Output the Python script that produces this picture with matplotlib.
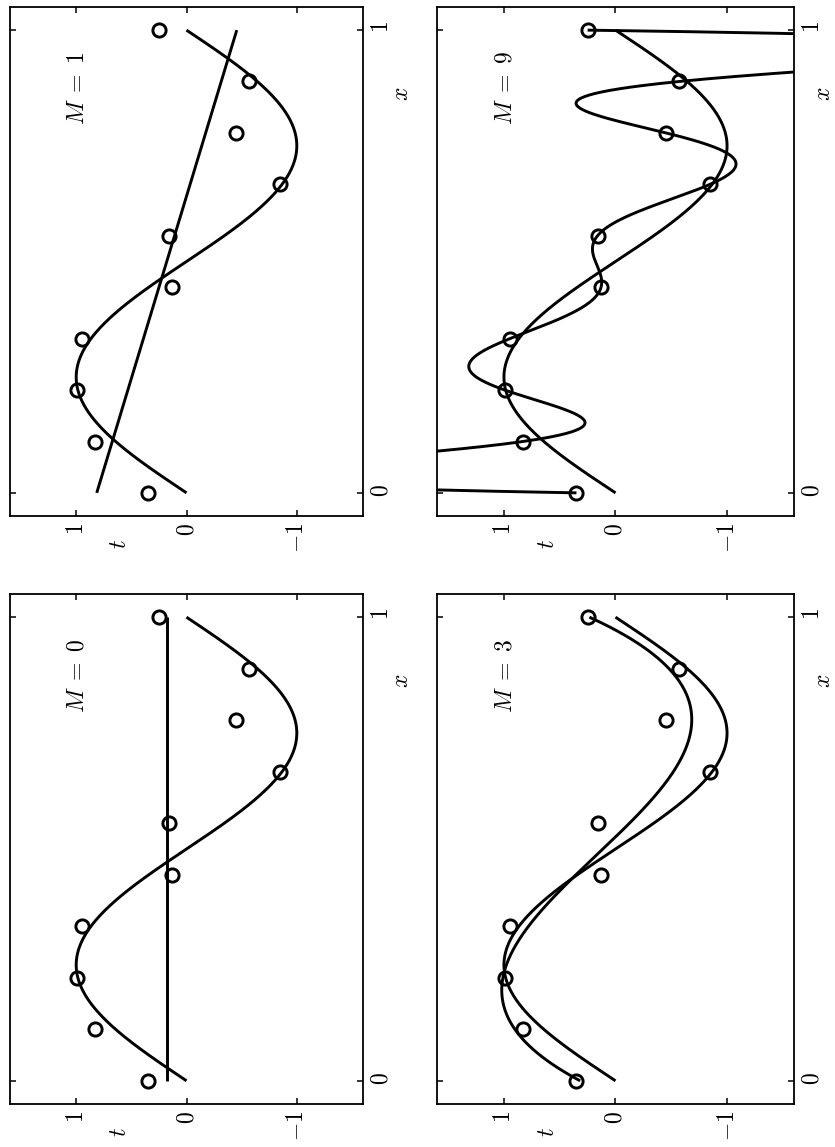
import numpy as np
import matplotlib
matplotlib.use("Agg")
import matplotlib.pyplot as plt
from numpy.polynomial import Polynomial

plt.rcParams['mathtext.fontset'] = 'cm'
plt.rcParams['font.family'] = ['DejaVu Serif']

# ---- data ----
x_data = [0.0, 0.111, 0.222, 0.333, 0.444, 0.556, 0.667, 0.778, 0.889, 1.0]
t_data = [0.35, 0.83, 0.99, 0.95, 0.13, 0.16, -0.85, -0.45, -0.57, 0.25]
orders = [0, 1, 3, 9]
panel_labels = [r'$M\;=\;0$', r'$M\;=\;1$', r'$M\;=\;3$', r'$M\;=\;9$']
t_ticks = [1, 0, -1]
t_tick_labels = ['$1$', '$0$', '$-1$']
x_ticks = [0, 1]
x_tick_labels = ['$0$', '$1$']

W, H = 835, 1147
fig = plt.figure(figsize=(W / 100, H / 100), dpi=100)

# panel frames in pixels (left, top, right, bottom); figure is shown rotated 90deg
frames = {
    0: (10, 594, 363, 1104),   # M=0 bottom-left
    1: (10, 7, 363, 516),      # M=1 top-left
    3: (437, 594, 794, 1104),  # M=3 bottom-right
    9: (437, 7, 794, 516),     # M=9 top-right
}

xs = np.linspace(0, 1, 600)
true_curve = np.sin(2 * np.pi * xs)

for M, lab in zip(orders, panel_labels):
    l, tp, r, b = frames[M]
    ax = fig.add_axes([l / W, (H - b) / H, (r - l) / W, (b - tp) / H])
    fit = Polynomial.fit(x_data, t_data, M)
    ax.plot(true_curve, xs, color='k', lw=2.1, solid_capstyle='butt')
    ax.plot(fit(xs), xs, color='k', lw=2.1, solid_capstyle='butt')
    ax.plot(t_data, x_data, 'o', mfc='none', mec='k', ms=9.5, mew=2.1)
    ax.set_xlim(1.6, -1.6)
    ax.set_ylim(-0.05, 1.05)
    ax.set_xticks(t_ticks)
    ax.set_xticklabels(t_tick_labels)
    ax.set_yticks(x_ticks)
    ax.set_yticklabels(x_tick_labels)
    ax.tick_params(direction='in', length=4, width=1.1, top=True, bottom=True,
                   left=True, right=True, labelbottom=True, labeltop=False,
                   labelleft=False, labelright=True, labelsize=17,
                   labelrotation=90, pad=5)
    for sp in ax.spines.values():
        sp.set_linewidth(1.3)
    ax.text(0.19, 0.84, lab, transform=ax.transAxes, rotation=90,
            ha='center', va='center', fontsize=17)
    xlab_pos = 1.11 if l < 100 else 1.082
    ax.text(xlab_pos, 0.83, '$x$', transform=ax.transAxes, rotation=90,
            ha='center', va='center', fontsize=17)
    ax.text(0.31, -0.055, '$t$', transform=ax.transAxes, rotation=90,
            ha='center', va='center', fontsize=17)

fig.savefig('out.png', dpi=100, facecolor='white')
